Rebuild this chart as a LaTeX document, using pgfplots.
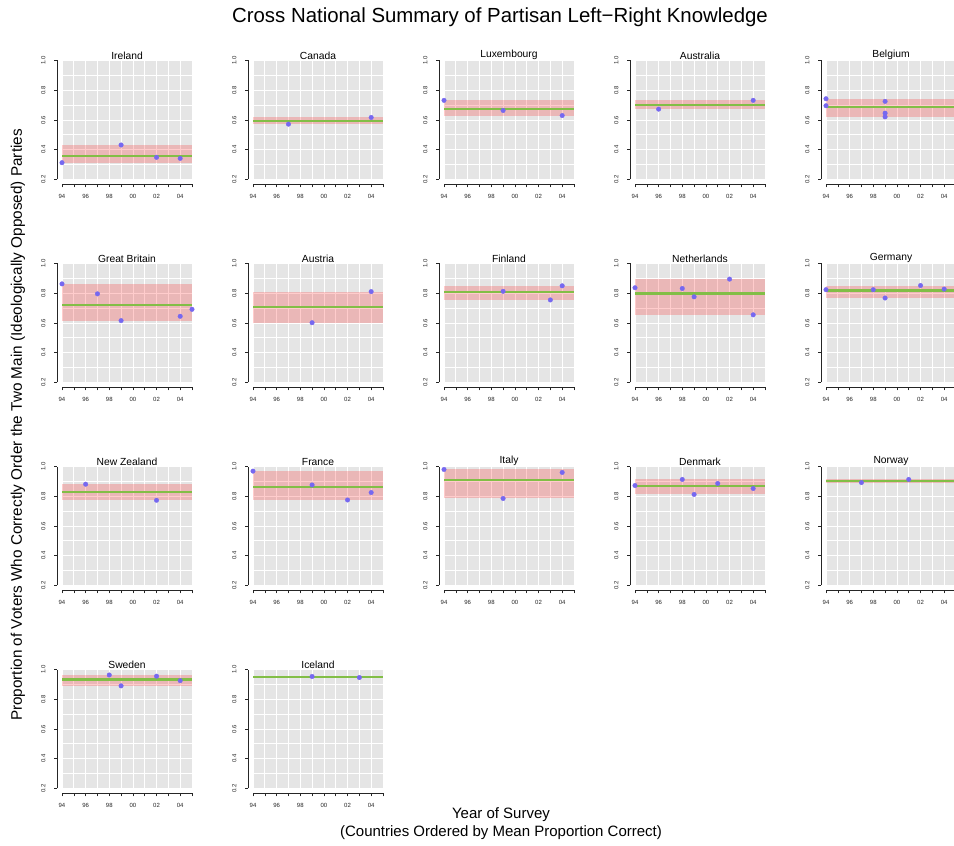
\documentclass[border=0pt]{standalone}
\usepackage{pgfplots}
\pgfplotsset{compat=1.18}
\usepackage{fontspec}
\setmainfont{Liberation Sans}
\definecolor{bggrey}{RGB}{229,229,229}
\definecolor{ptblue}{RGB}{118,104,240}
\definecolor{mgreen}{RGB}{130,190,70}
\pgfplotsset{
 panel/.style={
  scale only axis, width=130pt, height=119pt,
  xmin=1994, xmax=2005, ymin=0.2, ymax=1.0,
  axis background/.style={fill=bggrey},
  xtick={1994,1995,1996,1997,1998,1999,2000,2001,2002,2003,2004,2005},
  xticklabels={94,,96,,98,,00,,02,,04,},
  ytick={0.2,0.4,0.6,0.8,1.0}, yticklabels={0.2,0.4,0.6,0.8,1.0},
  minor ytick={0.3,0.5,0.7,0.9},
  grid=both, major grid style={white, line width=0.8pt}, minor grid style={white, line width=0.8pt},
  minor tick length=0pt,
  axis x line=bottom, axis y line=left,
  axis line style={-, line width=0.6pt, black!85},
  axis x line shift=5pt, axis y line shift=5pt,
  tick align=outside, major tick length=3pt, tick style={black!85, line width=0.6pt},
  ticklabel style={font=\fontsize{6}{7}\selectfont, text=black!85},
  xticklabel style={yshift=-3.5pt},
  yticklabel style={rotate=90, anchor=south, yshift=5pt},
  title style={font=\fontsize{10.3}{12}\selectfont, at={(0.5,1)}, anchor=south, inner sep=1pt, yshift=-6pt},
  clip=false,
  anchor=south west,
 },
 band/.style={draw=none, fill=red, fill opacity=0.2},
 meanband/.style={draw=none, fill=mgreen},
 pts/.style={only marks, color=ptblue, mark=*, mark size=2.3pt, mark options={draw=ptblue, fill=ptblue, line width=0.3pt}},
}
% #1 name, #2 min, #3 max, #4 mean-0.0075, #5 mean+0.0075, #6 x, #7 y, #8 points
\newcommand{\panel}[8]{%
\begin{axis}[panel, title={#1}, at={(#6,#7)}]
\addplot[band] coordinates {(1994,#2) (2005,#2) (2005,#3) (1994,#3)} -- cycle;
\addplot[meanband] coordinates {(1994,#4) (2005,#4) (2005,#5) (1994,#5)} -- cycle;
\addplot[pts] coordinates {#8};
\end{axis}}
\begin{document}
\begin{tikzpicture}
\useasboundingbox (0,0) rectangle (954pt,846pt);
% row 1
\panel{Ireland}{0.313}{0.432}{0.3515}{0.3665}{62pt}{666.5pt}{(1994,0.313) (1999,0.432) (2002,0.349) (2004,0.342)}
\panel{Canada}{0.572}{0.617}{0.5875}{0.6025}{253pt}{666.5pt}{(1997,0.572) (2004,0.617)}
\panel{Luxembourg}{0.630}{0.732}{0.6675}{0.6825}{444pt}{666.5pt}{(1994,0.732) (1999,0.664) (2004,0.630)}
\panel{Australia}{0.673}{0.732}{0.6955}{0.7105}{635pt}{666.5pt}{(1996,0.673) (2004,0.732)}
\panel{Belgium}{0.621}{0.743}{0.6785}{0.6935}{826pt}{666.5pt}{(1994,0.743) (1994,0.696) (1999,0.725) (1999,0.646) (1999,0.621)}
% row 2
\panel{Great Britain}{0.616}{0.863}{0.7145}{0.7295}{62pt}{463.5pt}{(1994,0.863) (1997,0.796) (1999,0.616) (2004,0.645) (2005,0.692)}
\panel{Austria}{0.602}{0.811}{0.6985}{0.7135}{253pt}{463.5pt}{(1999,0.602) (2004,0.811)}
\panel{Finland}{0.755}{0.850}{0.7985}{0.8135}{444pt}{463.5pt}{(1999,0.813) (2003,0.755) (2004,0.850)}
\panel{Netherlands}{0.655}{0.895}{0.7915}{0.8065}{635pt}{463.5pt}{(1994,0.837) (1998,0.832) (1999,0.776) (2002,0.895) (2004,0.655)}
\panel{Germany}{0.768}{0.852}{0.8115}{0.8265}{826pt}{463.5pt}{(1994,0.824) (1998,0.824) (1999,0.768) (2002,0.852) (2004,0.828)}
% row 3
\panel{New Zealand}{0.773}{0.881}{0.8195}{0.8345}{62pt}{260.5pt}{(1996,0.881) (2002,0.773)}
\panel{France}{0.775}{0.969}{0.8535}{0.8685}{253pt}{260.5pt}{(1994,0.969) (1999,0.876) (2002,0.775) (2004,0.825)}
\panel{Italy}{0.785}{0.980}{0.9005}{0.9155}{444pt}{260.5pt}{(1994,0.980) (1999,0.785) (2004,0.960)}
\panel{Denmark}{0.812}{0.913}{0.8595}{0.8745}{635pt}{260.5pt}{(1994,0.872) (1998,0.913) (1999,0.812) (2001,0.886) (2004,0.852)}
\panel{Norway}{0.892}{0.913}{0.8945}{0.9095}{826pt}{260.5pt}{(1997,0.892) (2001,0.913)}
% row 4
\panel{Sweden}{0.890}{0.963}{0.9255}{0.9405}{62pt}{57.5pt}{(1998,0.963) (1999,0.890) (2002,0.955) (2004,0.925)}
\panel{Iceland}{0.946}{0.953}{0.9425}{0.9575}{253pt}{57.5pt}{(1999,0.953) (2003,0.946)}
% titles
\node[font=\fontsize{20.4}{24}\selectfont] at (500pt,829pt) {Cross National Summary of Partisan Left−Right Knowledge};
\node[font=\fontsize{15.3}{18}\selectfont, rotate=90] at (18pt,421pt) {Proportion of Voters Who Correctly Order the Two Main (Ideologically Opposed) Parties};
\node[font=\fontsize{15}{18}\selectfont] at (501pt,31pt) {Year of Survey};
\node[font=\fontsize{15}{18}\selectfont] at (501pt,13pt) {(Countries Ordered by Mean Proportion Correct)};
\end{tikzpicture}
\end{document}
